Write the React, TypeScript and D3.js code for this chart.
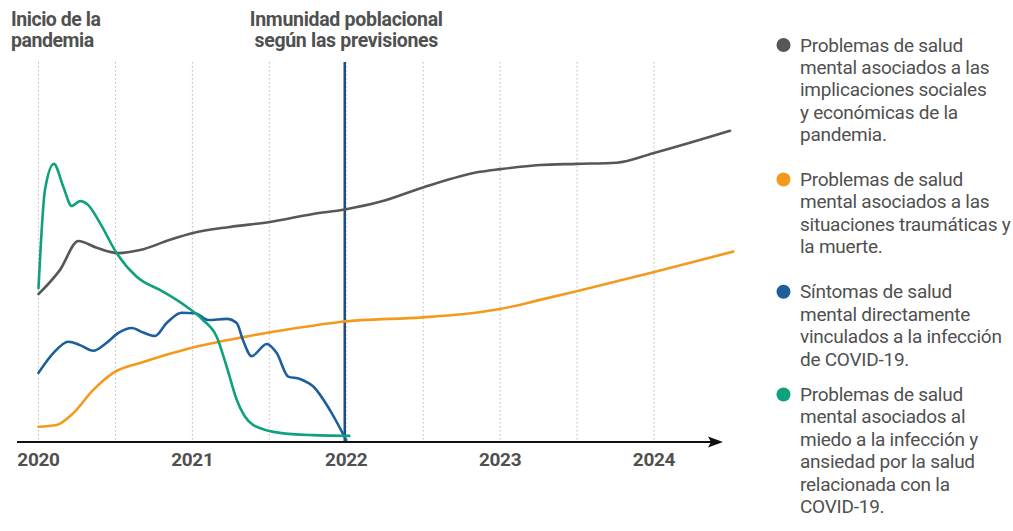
import React from "react";
import * as d3 from "d3";

// ---- Data (x in years, y in relative level 0-100) ----
const grayYears = [2020.0, 2020.14, 2020.259, 2020.378, 2020.517, 2020.66, 2020.854, 2021.004, 2021.244, 2021.504, 2021.784, 2021.99, 2022.219, 2022.5, 2022.869, 2023.0, 2023.259, 2023.497, 2023.757, 2023.995, 2024.494];
const grayValues = [38.9, 45.3, 52.9, 51.1, 49.7, 50.5, 53.2, 55.0, 56.6, 57.9, 60.0, 61.2, 63.2, 67.0, 71.1, 71.8, 72.9, 73.2, 73.5, 76.0, 81.9];

const orangeYears = [2020.0, 2020.118, 2020.226, 2020.356, 2020.486, 2020.66, 2020.984, 2021.329, 2021.678, 2021.959, 2022.496, 2022.695, 2023.0, 2023.259, 2023.497, 2023.995, 2024.515];
const orangeValues = [4.0, 4.5, 7.6, 13.7, 18.2, 20.8, 24.7, 27.6, 30.0, 31.6, 32.8, 33.4, 35.0, 37.4, 39.7, 44.7, 50.1];

const blueYears = [2020.0, 2020.096, 2020.194, 2020.27, 2020.356, 2020.443, 2020.519, 2020.606, 2020.681, 2020.757, 2020.833, 2020.93, 2021.017, 2021.103, 2021.223, 2021.288, 2021.329, 2021.385, 2021.483, 2021.548, 2021.623, 2021.699, 2021.786, 2021.894, 2022.0];
const blueValues = [18.2, 23.4, 26.4, 25.5, 24.0, 26.1, 28.7, 30.0, 28.8, 27.9, 31.3, 34.0, 33.9, 32.1, 32.4, 31.3, 26.8, 22.6, 25.8, 23.4, 17.2, 16.6, 14.6, 8.4, 0.5];

const greenYears = [2020.0, 2020.042, 2020.1, 2020.161, 2020.216, 2020.27, 2020.322, 2020.4, 2020.508, 2020.638, 2020.809, 2020.963, 2021.069, 2021.158, 2021.223, 2021.288, 2021.394, 2021.569, 2021.784, 2022.02];
const greenValues = [40.5, 66.3, 73.2, 67.2, 62.1, 63.4, 62.4, 57.6, 49.7, 43.5, 39.6, 35.6, 32.1, 27.7, 19.8, 11.1, 4.5, 2.4, 1.8, 1.6];

const tickYears = [2020, 2021, 2022, 2023, 2024];
const gridYears = [2020, 2020.5, 2021, 2021.5, 2022, 2022.5, 2023, 2023.5, 2024];
const immunityYear = 2022;

const seriesNames = ["gray", "orange", "blue", "green"];
const seriesColors = ["#575757", "#f39a1e", "#1d5f9c", "#0fa07e"];
const legendLines = [
  ["Problemas de salud", "mental asociados a las", "implicaciones sociales", "y económicas de la", "pandemia."],
  ["Problemas de salud", "mental asociados a las", "situaciones traumáticas y", "la muerte."],
  ["Síntomas de salud", "mental directamente", "vinculados a la infección", "de COVID-19."],
  ["Problemas de salud", "mental asociados al", "miedo a la infección y", "ansiedad por la salud", "relacionada con la", "COVID-19."],
];
const leftTitle = ["Inicio de la", "pandemia"];
const centerTitle = ["Inmunidad poblacional", "según las previsiones"];

const W = 1013;
const H = 531;

export default function App() {
  const x = d3.scaleLinear().domain([2020, 2024]).range([38.5, 654]);
  const y = d3.scaleLinear().domain([0, 100]).range([442, 62]);

  const line = d3
    .line<[number, number]>()
    .x((d) => x(d[0]))
    .y((d) => y(d[1]))
    .curve(d3.curveMonotoneX);

  const allSeries = [
    d3.zip(grayYears, grayValues) as [number, number][],
    d3.zip(orangeYears, orangeValues) as [number, number][],
    d3.zip(blueYears, blueValues) as [number, number][],
    d3.zip(greenYears, greenValues) as [number, number][],
  ];

  const textColor = "#505050";
  const font = "Roboto, 'Noto Sans', sans-serif";
  const legendStarts = [51.5, 186, 298.3, 401];
  const legendStep = 22.4;
  const titleBase = 26;
  const titleStep = 21;

  const axisY = y(0);

  return (
    <svg
      width={W}
      height={H}
      style={{ position: "absolute", left: 0, top: 0, background: "#fff" }}
      fontFamily={font}
    >
      {/* grid */}
      {gridYears.map((g) => (
        <line
          key={g}
          x1={x(g)}
          x2={x(g)}
          y1={y(100)}
          y2={axisY}
          stroke="#b8b8b8"
          strokeWidth={1}
          strokeDasharray="1.5,2.5"
        />
      ))}
      {/* immunity line */}
      <line
        x1={x(immunityYear) - 1.5}
        x2={x(immunityYear) - 1.5}
        y1={y(100)}
        y2={axisY}
        stroke="#1b4f80"
        strokeWidth={2.5}
      />
      {/* series */}
      {allSeries.map((s, i) => (
        <path
          key={seriesNames[i]}
          d={line(s) || ""}
          fill="none"
          stroke={seriesColors[i]}
          strokeWidth={2.6}
          strokeLinecap="round"
          strokeLinejoin="round"
        />
      ))}
      {/* axis */}
      <line x1={17} x2={712} y1={axisY} y2={axisY} stroke="#111" strokeWidth={2} />
      <path
        d={`M ${708} ${axisY - 5.5} L ${723} ${axisY} L ${708} ${axisY + 5.5} L ${711} ${axisY} Z`}
        fill="#111"
      />
      {tickYears.map((t) => (
        <text
          key={t}
          x={x(t)}
          y={466}
          textAnchor="middle"
          fontSize={19}
          fontWeight={700}
          fill={textColor}
          letterSpacing={-0.3}
        >
          {t}
        </text>
      ))}
      {/* titles */}
      {leftTitle.map((t, i) => (
        <text
          key={t}
          x={11}
          y={titleBase + i * titleStep}
          fontSize={19.5}
          fontWeight={700}
          fill={textColor}
          letterSpacing={-0.45}
        >
          {t}
        </text>
      ))}
      {centerTitle.map((t, i) => (
        <text
          key={t}
          x={x(immunityYear)}
          y={titleBase + i * titleStep}
          textAnchor="middle"
          fontSize={19.5}
          fontWeight={700}
          fill={textColor}
          letterSpacing={-0.3}
        >
          {t}
        </text>
      ))}
      {/* legend */}
      {legendLines.map((lines, i) => (
        <g key={i}>
          <circle cx={783.5} cy={legendStarts[i] - 6.5} r={7} fill={seriesColors[i]} />
          {lines.map((l, j) => (
            <text
              key={j}
              x={800}
              y={legendStarts[i] + j * legendStep}
              fontSize={19}
              fill={textColor}
              letterSpacing={-0.25}
            >
              {l}
            </text>
          ))}
        </g>
      ))}
    </svg>
  );
}
